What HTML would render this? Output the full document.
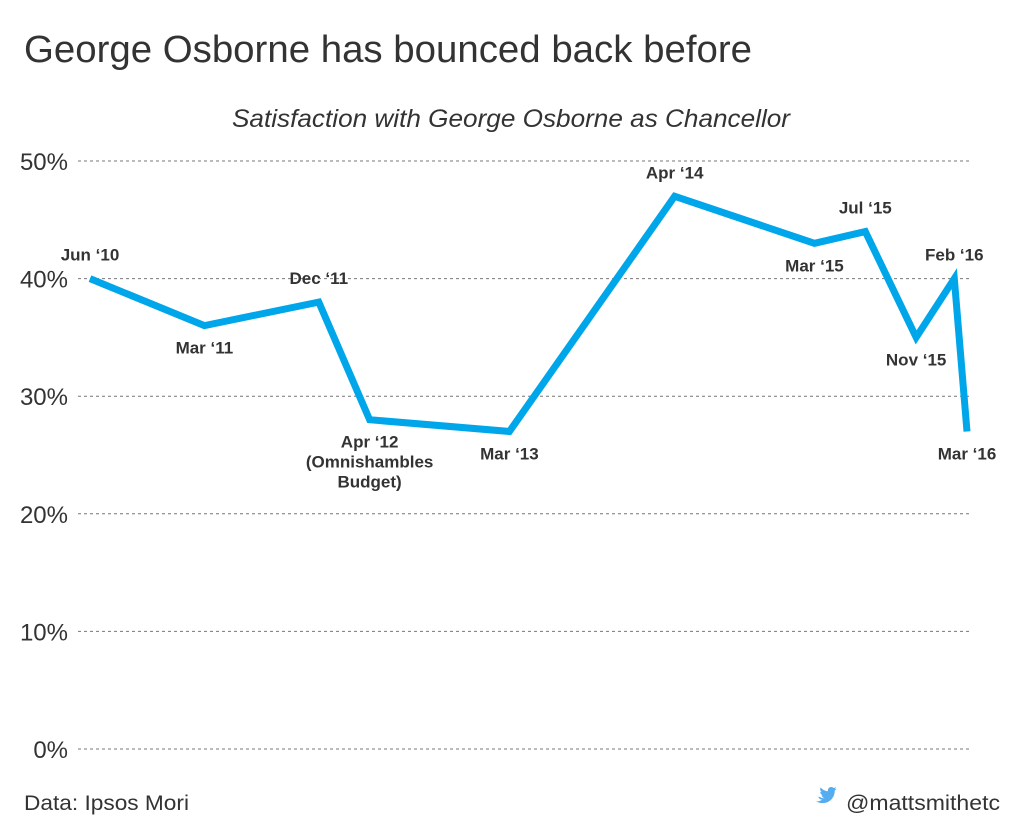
<!DOCTYPE html>
<html><head><meta charset="utf-8">
<style>
body{margin:0;background:#fff;width:1024px;height:832px;overflow:hidden;font-family:"Liberation Sans",sans-serif;}
svg{display:block}
</style></head>
<body>
<svg id="chart" width="1024" height="832">
<text x="24" y="62" font-size="38" fill="#333" textLength="728" lengthAdjust="spacingAndGlyphs">George Osborne has bounced back before</text>
<text x="232" y="127" font-size="25" font-style="italic" fill="#333" textLength="558" lengthAdjust="spacingAndGlyphs">Satisfaction with George Osborne as Chancellor</text>
<text x="24" y="810" font-size="21" fill="#333" textLength="165" lengthAdjust="spacingAndGlyphs">Data: Ipsos Mori</text>
<g>
<path d="M820 797c1.5 1 3 1.3 4.5 1.2-1.5-.5-2.5-1.5-3-3 .5.1 1 .1 1.5 0-1.6-.4-2.8-1.8-2.8-3.5.5.3 1 .4 1.5.4-1.5-1-2-3-1-4.6 1.8 2.2 4.4 3.5 7.2 3.7-.4-2 1-4 3-4.2 1.1-.1 2.1.3 2.8 1 .9-.2 1.700-.5 2.4-.9-.3.9-.9 1.6-1.7 2.1.8-.1 1.5-.3 2.2-.6-.5.8-1.2 1.5-1.9 2 .2 6.5-4.8 12.5-12 12.5-2.5 0-4.7-.7-6.6-1.9 2.2.3 4.3-.3 6-1.6-1.8 0-3.3-1.2-3.9-2.8z" fill="#55acee"/>
<text x="846" y="810" font-size="21" fill="#333" textLength="154" lengthAdjust="spacingAndGlyphs">@mattsmithetc</text>
</g>
<g id="grid"></g><g id="series"></g><g id="labels"></g>
</svg>
<script>
const ticks=[0,10,20,30,40,50];
const tickLabels=["0%","10%","20%","30%","40%","50%"];
const months=[0,9,18,22,33,46,57,61,65,68,69];
const values=[40,36,38,28,27,47,43,44,35,40,27];
const pointLabels=[["Jun \u201810"],["Mar \u201811"],["Dec \u201811"],["Apr \u201812","(Omnishambles","Budget)"],["Mar \u201813"],["Apr \u201814"],["Mar \u201815"],["Jul \u201815"],["Nov \u201815"],["Feb \u201816"],["Mar \u201816"]];
const labelSide=["above","below","above","below","below","above","below","above","below","above","below"];
const NS="http://www.w3.org/2000/svg";
const x=m=>90+m*(877/69);
const y=v=>749-v*(588/50);
const grid=document.getElementById('grid');
ticks.forEach((t,i)=>{
 const l=document.createElementNS(NS,'line');
 l.setAttribute('x1',78);l.setAttribute('x2',970);l.setAttribute('y1',y(t));l.setAttribute('y2',y(t));
 l.setAttribute('stroke','#777');l.setAttribute('stroke-dasharray','3,3');l.setAttribute('stroke-width','1');
 
 
 grid.appendChild(l);
 const tx=document.createElementNS(NS,'text');
 tx.setAttribute('x',68);tx.setAttribute('y',y(t)+9);tx.setAttribute('text-anchor','end');
 tx.setAttribute('font-size','24');tx.setAttribute('fill','#333');tx.textContent=tickLabels[i];
 
 
 grid.appendChild(tx);
});
const p=document.createElementNS(NS,'polyline');
p.setAttribute('points',months.map((m,i)=>x(m)+','+y(values[i])).join(' '));
p.setAttribute('fill','none');p.setAttribute('stroke','#00a6ea');p.setAttribute('stroke-width','7');p.setAttribute('stroke-linejoin','miter');


document.getElementById('series').appendChild(p);
const lg=document.getElementById('labels');
months.forEach((m,i)=>{
 const t=document.createElementNS(NS,'text');
 const px=x(m),py=y(values[i]);
 const by=labelSide[i]==='above'?py-18:py+28;
 t.setAttribute('x',px);t.setAttribute('y',by);t.setAttribute('text-anchor','middle');
 t.setAttribute('font-size','17');t.setAttribute('font-weight','bold');t.setAttribute('fill','#333');
 pointLabels[i].forEach((s,j)=>{const ts=document.createElementNS(NS,'tspan');ts.setAttribute('x',px);ts.setAttribute('y',by+j*20);ts.textContent=s;t.appendChild(ts);});
 
 
 lg.appendChild(t);
});
</script>
</body></html>
